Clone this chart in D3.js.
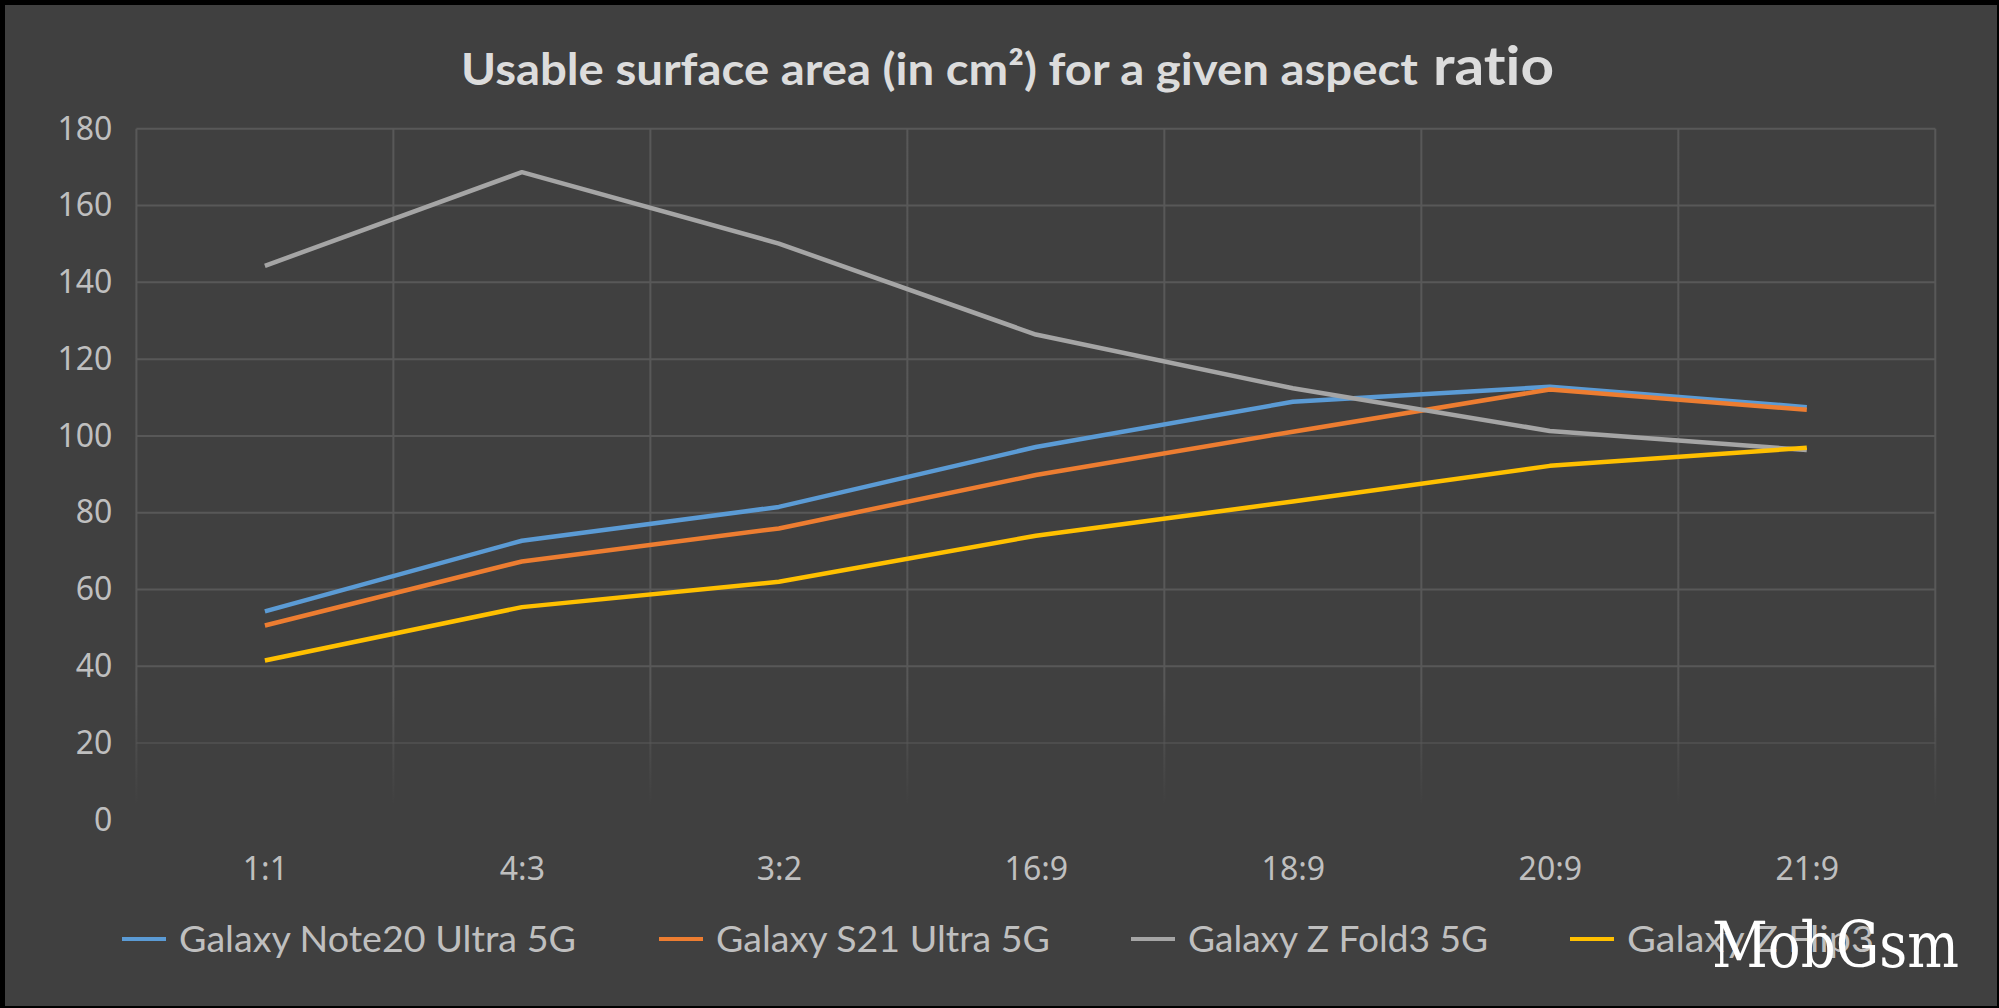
<!DOCTYPE html>
<html>
<head>
<meta charset="utf-8">
<script src="https://cdn.jsdelivr.net/npm/d3@7"></script>
<style>
  html, body { margin: 0; padding: 0; background: #000; }
  svg { display: block; }
  text { font-variant-ligatures: none; }
</style>
</head>
<body>
<svg id="chart" width="1999" height="1008"></svg>
<script>
const categories = ["1:1", "4:3", "3:2", "16:9", "18:9", "20:9", "21:9"];
const seriesNames = ["Galaxy Note20 Ultra 5G", "Galaxy S21 Ultra 5G", "Galaxy Z Fold3 5G", "Galaxy Z Flip3"];
const note20Values = [54.3, 72.7, 81.5, 97.1, 108.9, 112.8, 107.5];
const s21Values    = [50.6, 67.3, 75.9, 89.8, 101.1, 112.1, 106.8];
const fold3Values  = [144.3, 168.7, 150.1, 126.4, 112.4, 101.3, 96.3];
const flip3Values  = [41.5, 55.4, 62.0, 74.0, 82.9, 92.2, 96.9];
const yTicks = [0, 20, 40, 60, 80, 100, 120, 140, 160, 180];
const titleMain = "Usable surface area (in cm²) for a given aspect";
const titleEnd = "ratio";
const watermark = "MobGsm";

(function () {
const colors = ["#5B9BD5", "#ED7D31", "#A5A5A5", "#FFC000"];
const series = [note20Values, s21Values, fold3Values, flip3Values].map((v, i) => ({name: seriesNames[i], values: v, color: colors[i]}));

const svg = d3.select("#chart");
svg.append("rect").attr("x", 5).attr("y", 5).attr("width", 1992).attr("height", 1001).attr("fill", "#404040");

const pLeft = 136.4, pRight = 1935.3, pTop = 128.8, pBottom = 819.8;
const band = d3.scaleBand().domain(categories).range([pLeft, pRight]);
const xPt = d3.scalePoint().domain(categories).range([pLeft, pRight]).padding(0.5);
const y = d3.scaleLinear().domain([0, 180]).range([pBottom, pTop]);

const defs = svg.append("defs");
const grad = defs.append("linearGradient").attr("id", "gridFade")
  .attr("gradientUnits", "userSpaceOnUse").attr("x1", 0).attr("y1", 690).attr("x2", 0).attr("y2", 805);
grad.append("stop").attr("offset", 0).attr("stop-color", "#585858").attr("stop-opacity", 1);
grad.append("stop").attr("offset", 1).attr("stop-color", "#585858").attr("stop-opacity", 0);

const grid = svg.append("g");
grid.selectAll("line.h").data(yTicks).join("line").attr("class", "h")
  .attr("x1", pLeft).attr("x2", pRight)
  .attr("y1", d => y(d)).attr("y2", d => y(d))
  .attr("stroke", "url(#gridFade)").attr("stroke-width", 2);
const vlines = categories.map(c => band(c)).concat([pRight]);
grid.selectAll("line.v").data(vlines).join("line").attr("class", "v")
  .attr("x1", d => d).attr("x2", d => d)
  .attr("y1", pTop).attr("y2", pBottom)
  .attr("stroke", "url(#gridFade)").attr("stroke-width", 2);

const yAxis = svg.append("g").attr("transform", `translate(${pLeft},0)`)
  .call(d3.axisLeft(y).tickValues(yTicks).tickSize(0).tickPadding(24));
yAxis.select(".domain").remove();
yAxis.selectAll("text").attr("font-family", "'Noto Sans'").attr("font-size", 32).attr("fill", "#bfbfbf");

const xAxis = svg.append("g").attr("transform", `translate(0,${pBottom})`)
  .call(d3.axisBottom(xPt).tickSize(0).tickPadding(37));
xAxis.select(".domain").remove();
xAxis.selectAll("text").attr("font-family", "'Noto Sans'").attr("font-size", 32).attr("fill", "#bfbfbf");

const line = d3.line().x((d, i) => xPt(categories[i])).y(d => y(d));
svg.append("g").selectAll("path").data(series).join("path")
  .attr("d", d => line(d.values))
  .attr("fill", "none").attr("stroke", d => d.color)
  .attr("stroke-width", 4.5).attr("stroke-linejoin", "round").attr("stroke-linecap", "butt");

svg.append("text").attr("x", 461).attr("y", 85)
  .attr("font-family", "Lato").attr("font-weight", "bold").attr("font-size", 44)
  .attr("fill", "#dcdcdc").attr("textLength", 957).attr("lengthAdjust", "spacingAndGlyphs")
  .text(titleMain);
svg.append("text").attr("x", 1433).attr("y", 85)
  .attr("font-family", "Lato").attr("font-weight", "bold").attr("font-size", 53)
  .attr("fill", "#dcdcdc").attr("textLength", 121).attr("lengthAdjust", "spacingAndGlyphs")
  .text(titleEnd);

const legendX = [122, 659, 1131, 1570];
const legendLen = [397, 334, 300, 247];
const lg = svg.append("g").selectAll("g").data(series).join("g");
lg.append("line")
  .attr("x1", (d, i) => legendX[i]).attr("x2", (d, i) => legendX[i] + 44)
  .attr("y1", 939).attr("y2", 939)
  .attr("stroke", d => d.color).attr("stroke-width", 4);
lg.append("text")
  .attr("x", (d, i) => legendX[i] + 57).attr("y", 951.5)
  .attr("font-family", "Lato").attr("font-size", 36).attr("fill", "#bfbfbf")
  .attr("textLength", (d, i) => legendLen[i]).attr("lengthAdjust", "spacingAndGlyphs")
  .text(d => d.name);

svg.append("text").attr("x", 1712).attr("y", 967)
  .attr("font-family", "'DejaVu Serif'").attr("font-size", 63).attr("fill", "#ffffff")
  .attr("textLength", 247).attr("lengthAdjust", "spacingAndGlyphs")
  .text(watermark);
})();
</script>
</body>
</html>
